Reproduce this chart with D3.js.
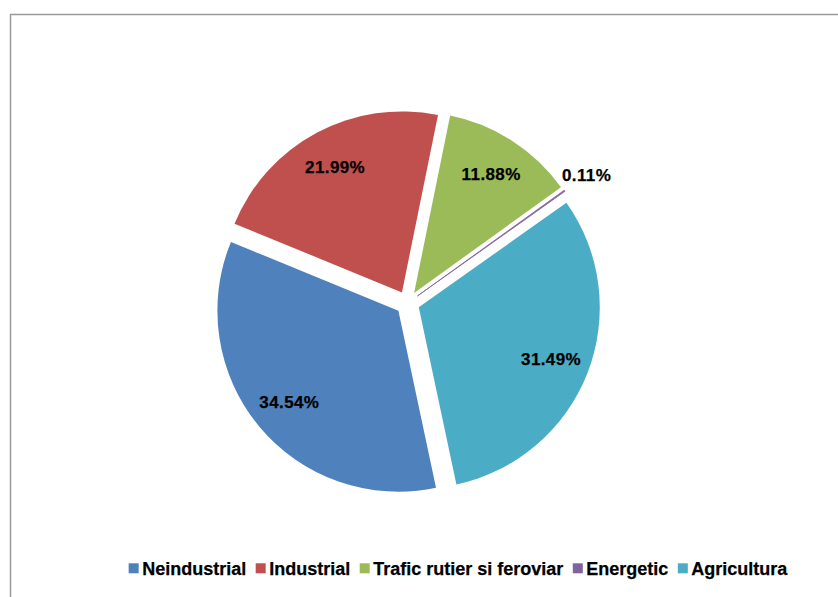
<!DOCTYPE html>
<html>
<head>
<meta charset="utf-8">
<script src="https://cdn.jsdelivr.net/npm/d3@7"></script>
<style>
  html, body { margin: 0; padding: 0; background: #fff; }
  svg { display: block; }
  text { font-family: "Liberation Sans", Arial, sans-serif; font-weight: bold; fill: #000; stroke: #000; stroke-width: 0.25px; }
</style>
</head>
<body>
<svg id="chart" width="838" height="597"></svg>
<script>
const categories = ["Neindustrial", "Industrial", "Trafic rutier si feroviar", "Energetic", "Agricultura"];
const values = [34.54, 21.99, 11.88, 0.11, 31.49];
const labels = ["34.54%", "21.99%", "11.88%", "0.11%", "31.49%"];
const colors = ["#4F81BD", "#C0504D", "#9BBB59", "#8064A2", "#4BACC6"];

const W = 838, H = 597;
const cx = 407.6, cy = 303, R = 181, explode = 12;
const startDeg = 168;

const svg = d3.select("#chart");

// chart frame (partially outside the viewport)
svg.append("rect")
  .attr("x", 10.5).attr("y", 14.5)
  .attr("width", 1000).attr("height", 800)
  .attr("fill", "none")
  .attr("stroke", "#9a9a9a")
  .attr("stroke-width", 1.5);

const data = categories.map((c, i) => ({ name: c, value: values[i], label: labels[i], color: colors[i] }));

const start = startDeg * Math.PI / 180;
const pie = d3.pie().sort(null).value(d => d.value)
  .startAngle(start).endAngle(start + 2 * Math.PI);
const arcs = pie(data);

const arc = d3.arc().innerRadius(0).outerRadius(R);
const labelArc = d3.arc().innerRadius(142).outerRadius(142);
const outLabelArc = d3.arc().innerRadius(208).outerRadius(208);

function offset(d) {
  const a = (d.startAngle + d.endAngle) / 2;
  return [explode * Math.sin(a), -explode * Math.cos(a)];
}

const g = svg.append("g").attr("transform", `translate(${cx},${cy})`);

g.selectAll("path.slice")
  .data(arcs)
  .join("path")
  .attr("class", "slice")
  .attr("transform", d => { const o = offset(d); return `translate(${o[0]},${o[1]})`; })
  .attr("d", arc)
  .attr("fill", d => d.data.color)
  .attr("stroke", d => d.data.value < 1 ? d.data.color : "none")
  .attr("stroke-width", d => d.data.value < 1 ? 0.8 : 0);

g.selectAll("text.lbl")
  .data(arcs)
  .join("text")
  .attr("class", "lbl")
  .attr("transform", d => {
    const o = offset(d);
    const c = (d.data.value < 1 ? outLabelArc : labelArc).centroid(d);
    return `translate(${c[0] + o[0]},${c[1] + o[1]})`;
  })
  .attr("text-anchor", "middle")
  .attr("dy", "0.36em")
  .style("font-size", "17px")
  .style("letter-spacing", "0.4px")
  .text(d => d.data.label);

// legend
const legend = svg.append("g");
const fs = 18, sq = 10, gapSq = 3.5, gapItem = 9.5;
const items = legend.selectAll("g.item").data(data).join("g").attr("class", "item");
items.append("rect")
  .attr("width", sq).attr("height", sq)
  .attr("fill", d => d.color);
items.append("text")
  .attr("x", sq + gapSq)
  .attr("y", 11.2)
  .style("font-size", fs + "px")
  .text(d => d.name);

const widths = [];
items.each(function () {
  const tw = d3.select(this).select("text").node().getComputedTextLength();
  widths.push(sq + gapSq + tw);
});
const total = d3.sum(widths) + gapItem * (widths.length - 1);
const legendCenter = 458;
let lx = legendCenter - total / 2;
items.attr("transform", (d, i) => {
  const t = `translate(${lx},563.3)`;
  lx += widths[i] + gapItem;
  return t;
});
</script>
</body>
</html>
